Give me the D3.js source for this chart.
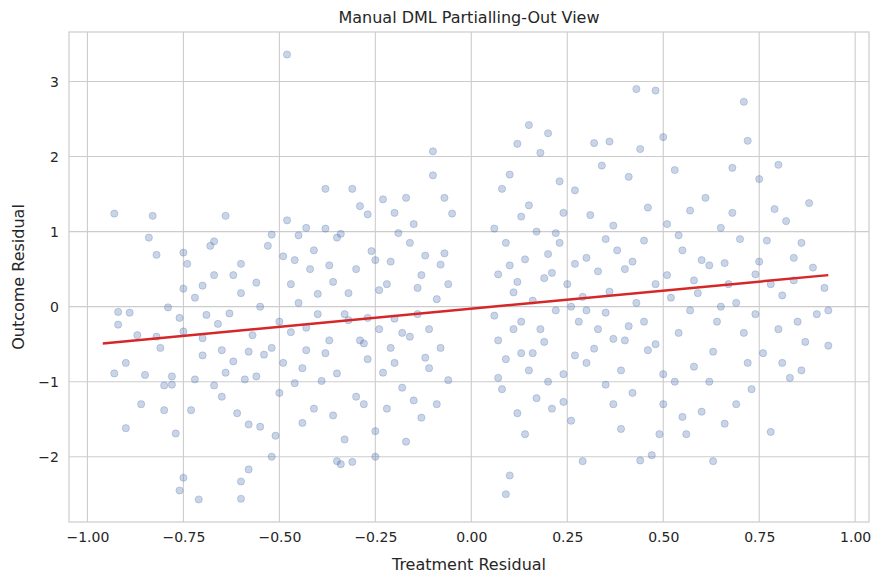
<!DOCTYPE html>
<html>
<head>
<meta charset="utf-8">
<style>
  body { margin: 0; background: #fff; }
  text { font-family: "DejaVu Sans", sans-serif; fill: #262626; }
</style>
</head>
<body>
<div id="chart"></div>
<script src="https://d3js.org/d3.v7.min.js"></script>
<script>
// residual pairs [treatment, outcome]
const residuals = [
[-0.93,1.24],[-0.92,-0.07],[-0.92,-0.24],[-0.93,-0.89],[-0.9,-0.75],[-0.9,-1.62],[-0.89,-0.08],[-0.87,-0.38],[-0.85,-0.91],[-0.84,0.92],[-0.83,1.21],[-0.82,0.69],[-0.82,-0.4],[-0.8,-1.05],[-0.8,-1.38],[-0.79,-0.01],[-0.78,-0.93],[-0.77,-1.69],[-0.76,-2.45],[-0.75,-2.28],[-0.75,0.72],[-0.74,0.57],[-0.75,0.24],[-0.75,-0.33],[-0.73,-1.38],[-0.72,-0.97],[-0.71,-2.57],[-0.7,0.28],[-0.7,-0.65],[-0.68,0.81],[-0.67,0.87],[-0.67,0.42],[-0.66,-0.23],[-0.65,-0.58],[-0.65,-1.2],[-0.64,1.21],[-0.63,-0.09],[-0.62,-0.73],[-0.61,-1.42],[-0.6,-2.33],[-0.6,0.57],[-0.59,-0.97],[-0.58,-2.17],[-0.58,-1.57],[-0.6,-2.56],[-0.57,-0.38],[-0.56,0.32],[-0.55,-1.6],[-0.54,-0.64],[-0.53,0.81],[-0.52,-2.0],[-0.52,0.96],[-0.51,-1.72],[-0.5,-0.2],[-0.49,0.67],[-0.48,3.36],[-0.48,1.15],[-0.47,-0.34],[-0.46,-1.02],[-0.45,0.95],[-0.45,0.05],[-0.44,-0.82],[-0.43,-0.28],[-0.43,1.05],[-0.42,0.5],[-0.41,-1.36],[-0.4,0.17],[-0.39,-0.99],[-0.38,1.57],[-0.38,1.04],[-0.37,-0.45],[-0.36,0.33],[-0.35,-0.89],[-0.35,-2.06],[-0.34,-2.1],[-0.34,0.97],[-0.33,-1.77],[-0.32,-0.18],[-0.31,1.57],[-0.31,-2.07],[-0.3,0.5],[-0.29,1.34],[-0.28,-0.49],[-0.28,-1.3],[-0.27,1.23],[-0.26,0.74],[-0.25,-1.66],[-0.25,-2.0],[-0.24,0.22],[-0.23,1.43],[-0.23,-0.88],[-0.22,-1.36],[-0.21,0.6],[-0.2,-0.16],[-0.19,0.98],[-0.18,-1.08],[-0.17,1.45],[-0.17,-1.8],[-0.16,-0.4],[-0.15,1.1],[-0.14,0.25],[-0.13,-1.48],[-0.12,-0.68],[-0.12,0.68],[-0.11,-0.3],[-0.1,2.07],[-0.1,1.75],[-0.09,-1.3],[-0.08,0.56],[-0.08,-0.55],[-0.07,1.45],[-0.06,-0.98],[-0.06,0.3],[-0.05,1.24],[-0.43,-0.58],[-0.47,0.3],[-0.52,-0.55],[-0.56,-0.93],[-0.62,0.42],[-0.69,-0.11],[-0.78,-1.04],[-0.86,-1.3],[-0.38,-0.62],[-0.33,-0.1],[-0.27,-0.7],[-0.22,0.3],[-0.16,0.85],[-0.2,-0.75],[-0.14,-0.1],[-0.3,-1.2],[-0.41,0.75],[-0.44,-1.55],[-0.55,0.0],[-0.64,-0.88],[-0.72,0.12],[-0.81,-0.55],[-0.35,0.92],[-0.24,-0.3],[-0.11,-0.82],[-0.09,0.1],[-0.18,-0.35],[-0.29,-0.45],[-0.36,-1.45],[-0.49,-0.75],[-0.58,-0.6],[-0.67,-1.05],[-0.76,-0.15],[-0.46,0.62],[-0.25,0.62],[-0.13,0.42],[-0.07,0.71],[-0.2,1.25],[-0.32,0.18],[-0.5,-1.15],[-0.6,0.18],[-0.7,-0.42],[-0.4,-0.1],[-0.27,-0.15],[-0.15,-1.25],[-0.21,-0.55],[-0.37,0.55],
[0.06,1.04],[0.06,-0.12],[0.07,-0.95],[0.07,0.43],[0.08,1.57],[0.08,-1.1],[0.09,-2.5],[0.09,0.85],[0.1,-2.25],[0.1,1.76],[0.11,-0.3],[0.11,0.19],[0.12,2.17],[0.12,-1.42],[0.13,-0.62],[0.13,1.2],[0.14,-1.7],[0.14,0.63],[0.15,2.42],[0.15,-0.85],[0.16,0.08],[0.17,1.0],[0.17,-1.22],[0.18,2.05],[0.19,-0.47],[0.2,2.31],[0.2,0.7],[0.21,-1.36],[0.22,0.98],[0.22,-0.05],[0.23,1.67],[0.24,-0.9],[0.24,-1.27],[0.25,0.3],[0.26,-1.52],[0.27,1.55],[0.27,0.57],[0.28,-0.2],[0.29,-2.06],[0.29,0.13],[0.3,-0.75],[0.31,1.22],[0.32,2.18],[0.32,-0.56],[0.33,0.47],[0.34,1.88],[0.35,-1.04],[0.35,-0.08],[0.36,2.2],[0.37,1.08],[0.37,-0.43],[0.38,0.75],[0.39,-1.63],[0.4,0.5],[0.41,1.73],[0.41,-0.26],[0.42,-1.15],[0.43,2.9],[0.43,0.05],[0.44,-2.05],[0.44,2.1],[0.45,0.88],[0.46,-0.58],[0.47,-1.98],[0.48,2.88],[0.48,0.3],[0.49,-1.7],[0.5,2.26],[0.5,-0.9],[0.51,1.1],[0.52,0.12],[0.53,1.82],[0.54,-0.35],[0.55,-1.47],[0.55,0.75],[0.56,-1.7],[0.57,1.28],[0.58,-0.8],[0.59,0.18],[0.6,-1.4],[0.61,1.45],[0.62,0.55],[0.63,-2.06],[0.64,-0.2],[0.65,1.05],[0.66,-1.56],[0.67,0.3],[0.68,1.85],[0.69,-1.3],[0.7,0.9],[0.71,2.73],[0.71,-0.35],[0.72,2.21],[0.73,-1.1],[0.74,0.43],[0.75,1.7],[0.76,-0.62],[0.77,0.88],[0.78,-1.67],[0.79,1.3],[0.8,1.89],[0.8,-0.3],[0.81,0.15],[0.82,1.14],[0.83,-0.95],[0.84,0.65],[0.85,-0.2],[0.86,0.85],[0.87,-0.47],[0.88,1.38],[0.89,0.52],[0.9,-0.1],[0.92,0.25],[0.93,-0.52],[0.93,-0.05],[0.1,0.55],[0.13,-0.2],[0.16,-0.62],[0.19,0.38],[0.23,0.85],[0.26,0.0],[0.3,0.65],[0.33,-0.3],[0.36,0.2],[0.39,-0.85],[0.42,0.6],[0.45,-0.2],[0.48,-0.5],[0.51,0.42],[0.54,0.95],[0.57,-0.05],[0.6,0.62],[0.63,-0.6],[0.66,0.58],[0.69,0.05],[0.72,-0.75],[0.75,0.6],[0.78,0.3],[0.81,-0.75],[0.84,0.35],[0.07,-0.45],[0.09,-0.7],[0.12,0.33],[0.15,1.35],[0.18,-0.3],[0.21,0.45],[0.24,1.25],[0.27,-0.65],[0.3,-0.05],[0.35,0.9],[0.4,-0.45],[0.46,1.32],[0.53,-1.0],[0.58,0.35],[0.62,-1.0],[0.68,1.25],[0.74,-0.1],[0.2,-1.0],[0.37,-1.3],[0.5,-1.3],[0.65,0.0],[0.86,-0.85]
];

// fitted line endpoints
const fitX = [-0.96, 0.93];
const fitY = [-0.49, 0.42];

const xTicks = [-1.0, -0.75, -0.5, -0.25, 0.0, 0.25, 0.5, 0.75, 1.0];
const yTicks = [-2, -1, 0, 1, 2, 3];

const W = 882, H = 584;
const margin = {top: 32, right: 13, bottom: 62, left: 69};
const w = W - margin.left - margin.right;
const h = H - margin.top - margin.bottom;

const svg = d3.select("#chart").append("svg")
    .attr("width", W).attr("height", H);

const g = svg.append("g")
    .attr("transform", `translate(${margin.left},${margin.top})`);

const x = d3.scaleLinear().domain([-1.048, 1.036]).range([0, w]);
const y = d3.scaleLinear().domain([-2.87, 3.66]).range([h, 0]);

// grid
g.selectAll(".gx").data(xTicks).join("line")
    .attr("x1", d => x(d)).attr("x2", d => x(d))
    .attr("y1", 0).attr("y2", h)
    .attr("stroke", "#cccccc").attr("stroke-width", 1.1);
g.selectAll(".gy").data(yTicks).join("line")
    .attr("y1", d => y(d)).attr("y2", d => y(d))
    .attr("x1", 0).attr("x2", w)
    .attr("stroke", "#cccccc").attr("stroke-width", 1.1);

// axes (labels only, no tick marks)
const xAxis = g.append("g").attr("transform", `translate(0,${h})`)
    .call(d3.axisBottom(x).tickValues(xTicks).tickFormat(d3.format(".2f")).tickSize(0).tickPadding(10));
const yAxis = g.append("g")
    .call(d3.axisLeft(y).tickValues(yTicks).tickFormat(d3.format("d")).tickSize(0).tickPadding(10));
[xAxis, yAxis].forEach(a => {
    a.select(".domain").remove();
    a.selectAll("text").style("font-size", "14px").style("fill", "#262626")
        .style("font-family", "'DejaVu Sans', sans-serif");
});
yAxis.selectAll("text").text(d => d < 0 ? "\u2212" + Math.abs(d) : d);
xAxis.selectAll("text").text(d => (d < 0 ? "\u2212" : "") + Math.abs(d).toFixed(2));

// points
g.selectAll(".pt").data(residuals).join("circle")
    .attr("cx", d => x(d[0])).attr("cy", d => y(d[1]))
    .attr("r", 3.6)
    .attr("fill", "#4c72b0").attr("fill-opacity", 0.3)
    .attr("stroke", "#4c72b0").attr("stroke-opacity", 0.35).attr("stroke-width", 0.8);

// fit line
g.append("line")
    .attr("x1", x(fitX[0])).attr("y1", y(fitY[0]))
    .attr("x2", x(fitX[1])).attr("y2", y(fitY[1]))
    .attr("stroke", "#d62728").attr("stroke-width", 2.5);

// frame
g.append("rect").attr("width", w).attr("height", h)
    .attr("fill", "none").attr("stroke", "#cccccc").attr("stroke-width", 1.2);

svg.append("text").attr("x", margin.left + w / 2).attr("y", 23)
    .attr("text-anchor", "middle").style("font-size", "16px")
    .text("Manual DML Partialling-Out View");
svg.append("text").attr("x", margin.left + w / 2).attr("y", 570)
    .attr("text-anchor", "middle").style("font-size", "16px")
    .text("Treatment Residual");
svg.append("text").attr("transform", `translate(24,${margin.top + h / 2}) rotate(-90)`)
    .attr("text-anchor", "middle").style("font-size", "16px")
    .text("Outcome Residual");
</script>
</body>
</html>
